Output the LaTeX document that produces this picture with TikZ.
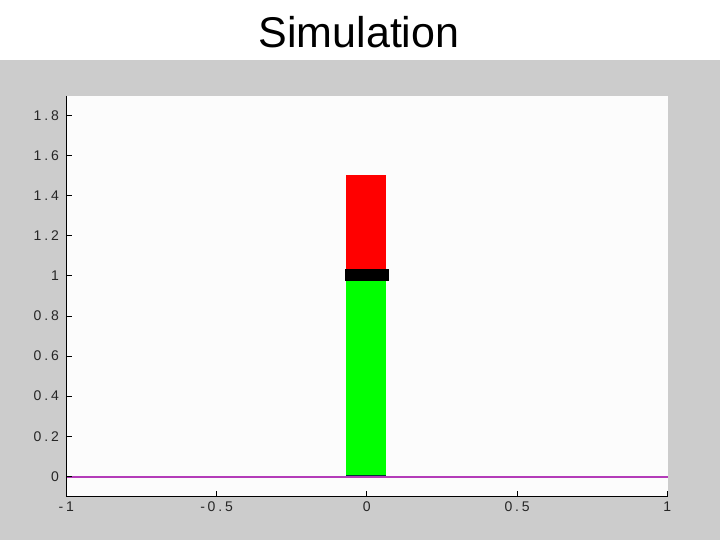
\documentclass[tikz,border=0pt]{standalone}
\usepackage{fontspec}
\setmainfont{Liberation Sans}
\newfontfamily\ticksfont[LetterSpace=20]{Liberation Sans}
\definecolor{bggray}{RGB}{204,204,204}
\definecolor{plotbg}{RGB}{252,252,252}
\definecolor{magline}{RGB}{180,60,185}
\definecolor{barred}{RGB}{255,0,0}
\definecolor{bargreen}{RGB}{0,255,0}
\begin{document}
\begin{tikzpicture}[x=1pt,y=-1pt,
  ticklab/.style={font=\ticksfont\fontsize{14}{14}\selectfont, inner sep=0pt, text=black!85},
  ylab/.style={ticklab, anchor=east},
  xlab/.style={ticklab, anchor=center},
  axisline/.style={black, line width=1pt}]
\useasboundingbox (0,0) rectangle (720,540);
% backgrounds
\fill[white] (0,0) rectangle (720,60);
\fill[bggray] (0,60) rectangle (720,540);
\fill[plotbg] (66.5,96) rectangle (667.5,496);
% title
\node[font=\fontsize{43}{43}\selectfont, anchor=base, inner sep=0pt] (title) at (359,48) {Simulation};
% magenta ground line
\draw[magline, line width=2pt] (66.5,476.5) -- (667.5,476.5);
% bars
\fill[bargreen] (346,281) rectangle (386,475);
\draw[black!60!teal, line width=0.8pt] (346,475) -- (386,475);
\fill[barred] (346,175.5) rectangle (386,269);
\fill[black] (345,269) rectangle (389,281);
% axes
\draw[axisline] (66.5,96) -- (66.5,496) -- (667.5,496);
% y ticks and labels
\foreach \v/\t [count=\i] in {0/0,0.2/0.2,0.4/0.4,0.6/0.6,0.8/0.8,1/1,1.2/1.2,1.4/1.4,1.6/1.6,1.8/1.8}{
  \pgfmathsetmacro{\yy}{476.3-200.5*\v}
  \draw[black, line width=0.8pt] (66.5,\yy) -- (71.5,\yy);
  \node[ylab] (yl\i) at (59,\yy) {\t};
}
% x ticks and labels
\foreach \u/\t [count=\i] in {-1/-1,-0.5/-0.5,0/0,0.5/0.5,1/1}{
  \pgfmathsetmacro{\xx}{366.8+300.5*\u}
  \draw[black, line width=0.8pt] (\xx,496) -- (\xx,491);
  \node[xlab] (xl\i) at (\xx,507) {\t};
}
\end{tikzpicture}
\end{document}
